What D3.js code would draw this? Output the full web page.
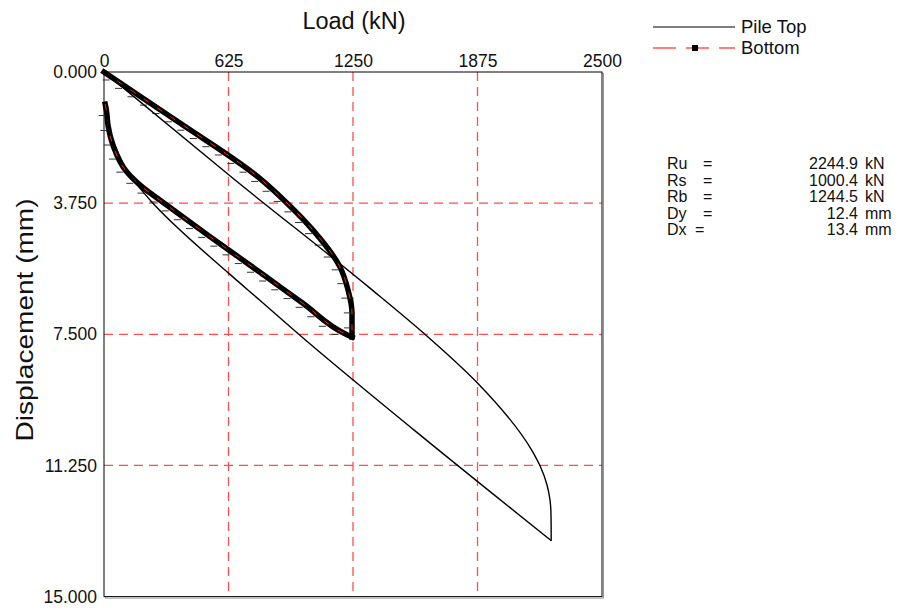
<!DOCTYPE html>
<html><head><meta charset="utf-8">
<script src="https://cdn.jsdelivr.net/npm/d3@7"></script>
<style>body{margin:0;background:#fff}svg{display:block}text{font-family:"Liberation Sans",Arial,sans-serif;fill:#111}</style>
</head><body>
<svg id="c" width="900" height="610"></svg>
<script>
// Tick labels
const xTicks = [0, 625, 1250, 1875, 2500];
const yTicks = [0, 3.75, 7.5, 11.25, 15];
// Pile Top: [load kN, displacement mm]
const pileTopLoad = [0,658,1335,1611,1876,2147,2189,2224,2239,2244,2245];
const pileTopDisp = [0,3.09,6.18,7.50,8.90,10.81,11.26,11.81,12.24,12.67,13.40];
const pileTopUnloadLoad = [2245,1557,982,781,631,231,130,55,15,0];
const pileTopUnloadDisp = [13.40,10.24,7.52,6.52,5.78,3.66,2.95,2.10,1.40,1.00];
// Bottom
const bottomLoad = [0,190,381,773,919,1049,1185,1225,1245,1245];
const bottomDisp = [0,0.73,1.46,3.00,3.75,4.52,5.58,6.23,6.89,7.58];
const bottomUnloadLoad = [1245,1222,1000,781,530,280,195,115,45,20,12,6];
const bottomUnloadDisp = [7.58,7.52,6.62,5.72,4.70,3.66,3.30,2.86,2.09,1.52,1.09,0.92];
// Results
const statNames = ["Ru","Rs","Rb","Dy","Dx"];
const statValues = ["2244.9","1000.4","1244.5","12.4","13.4"];
const statUnits = ["kN","kN","kN","mm","mm"];

const svg = d3.select("#c");
const L=104, T=72, R=602, B=596.6;
const x = d3.scaleLinear().domain([0,2500]).range([L,R]);
const y = d3.scaleLinear().domain([0,15]).range([T,B]);

// shadow of frame
svg.append("rect").attr("x",L+1.5).attr("y",T+1.5).attr("width",R-L).attr("height",B-T)
  .attr("fill","none").attr("stroke","#999").attr("stroke-width",1);
svg.append("rect").attr("x",L).attr("y",T).attr("width",R-L).attr("height",B-T)
  .attr("fill","#fff").attr("stroke","none");

// grid
const grid = svg.append("g").attr("stroke","#ff4d4d").attr("stroke-width",1.3).attr("stroke-dasharray","9,6");
xTicks.slice(1,-1).forEach(v=>grid.append("line").attr("x1",x(v)).attr("x2",x(v)).attr("y1",T).attr("y2",B));
yTicks.slice(1,-1).forEach(v=>grid.append("line").attr("y1",y(v)).attr("y2",y(v)).attr("x1",L).attr("x2",R));

// axes labels via d3 axes
const ax = svg.append("g").attr("transform",`translate(0,${T})`)
  .call(d3.axisTop(x).tickValues(xTicks).tickSize(0).tickPadding(5).tickFormat(d3.format("d")));
const ay = svg.append("g").attr("transform",`translate(${L},0)`)
  .call(d3.axisLeft(y).tickValues(yTicks).tickSize(0).tickPadding(7).tickFormat(d3.format(".3f")));
[ax,ay].forEach(g=>{g.select(".domain").remove();g.selectAll("text").attr("font-size",17.5).attr("fill","#111").attr("font-family","Liberation Sans, Arial, sans-serif");});

// frame
svg.append("rect").attr("x",L).attr("y",T).attr("width",R-L).attr("height",B-T)
  .attr("fill","none").attr("stroke","#000").attr("stroke-width",1);

const lineY = d3.line().x(d=>x(d[0])).y(d=>y(d[1])).curve(d3.curveMonotoneY);
const zip=(a,b)=>a.map((v,i)=>[v,b[i]]).sort((p,q)=>p[1]-q[1]);

// Bottom series
function bottomPath(data){
  const p = svg.append("path").datum(data).attr("d",lineY).attr("fill","none")
    .attr("stroke","#000").attr("stroke-width",5.5).attr("stroke-linejoin","round").attr("stroke-linecap","square");
  svg.append("path").datum(data).attr("d",lineY).attr("fill","none")
    .attr("stroke","#ff2020").attr("stroke-width",1).attr("stroke-dasharray","6,10");
  const node=p.node(), len=node.getTotalLength();
  const tk = svg.append("g").attr("stroke","#333").attr("stroke-width",1);
  for(let s=8;s<len;s+=15){
    const pt=node.getPointAtLength(s);
    tk.append("line").attr("x1",pt.x-8).attr("x2",pt.x-1).attr("y1",pt.y+3.5).attr("y2",pt.y+3.5);
  }
}
bottomPath(zip(bottomLoad,bottomDisp));
bottomPath(zip(bottomUnloadLoad,bottomUnloadDisp));

// Pile top series
svg.append("path").datum(zip(pileTopLoad,pileTopDisp)).attr("d",lineY).attr("fill","none").attr("stroke","#000").attr("stroke-width",1.4);
svg.append("path").datum(zip(pileTopUnloadLoad,pileTopUnloadDisp)).attr("d",lineY).attr("fill","none").attr("stroke","#000").attr("stroke-width",1.4);

// titles
svg.append("text").attr("x",354).attr("y",29).attr("text-anchor","middle").attr("font-size",23.5).text("Load (kN)");
svg.append("text").attr("transform",`translate(33,320) rotate(-90)`).attr("text-anchor","middle").attr("font-size",24)
  .attr("textLength",243).attr("lengthAdjust","spacingAndGlyphs").text("Displacement (mm)");

// legend
svg.append("line").attr("x1",653).attr("x2",735).attr("y1",27).attr("y2",27).attr("stroke","#000").attr("stroke-width",1.2);
svg.append("text").attr("x",741).attr("y",33).attr("font-size",18.5).text("Pile Top");
svg.append("line").attr("x1",653).attr("x2",735).attr("y1",48).attr("y2",48).attr("stroke","#ff0000").attr("stroke-width",1.2).attr("stroke-dasharray","23,10");
svg.append("rect").attr("x",692).attr("y",45).attr("width",6).attr("height",6).attr("fill","#000");
svg.append("text").attr("x",741).attr("y",54).attr("font-size",18.5).text("Bottom");

// stats
statNames.forEach((n,i)=>{
  const yy=169+i*16.5;
  svg.append("text").attr("x",667).attr("y",yy).attr("font-size",16).text(n);
  svg.append("text").attr("x",n==="Dx"?695:703).attr("y",yy).attr("font-size",16).text("=");
  svg.append("text").attr("x",858).attr("y",yy).attr("text-anchor","end").attr("font-size",16).text(statValues[i]);
  svg.append("text").attr("x",865).attr("y",yy).attr("font-size",16).text(statUnits[i]);
});
</script>
</body></html>
